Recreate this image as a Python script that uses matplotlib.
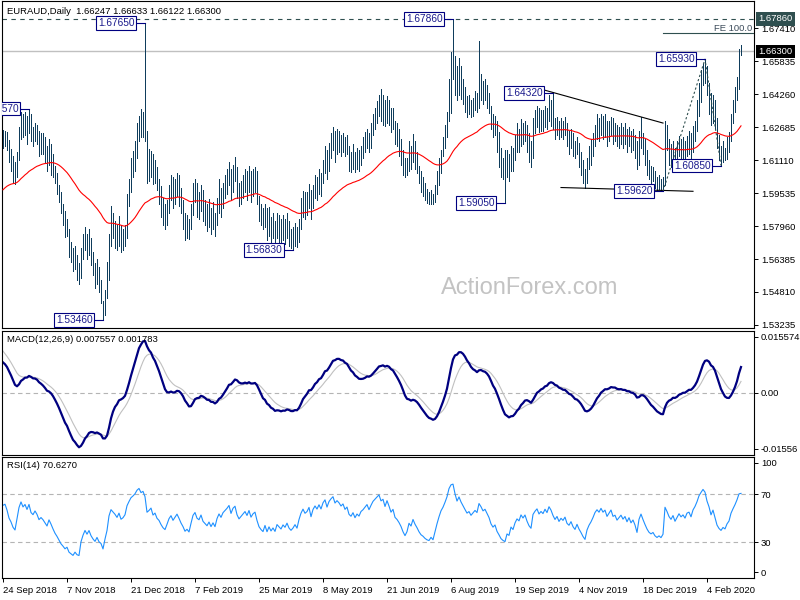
import numpy as np
import matplotlib
matplotlib.use('Agg')
import matplotlib.pyplot as plt

plt.rcParams['font.family'] = ['Liberation Sans', 'DejaVu Sans']

# daily EURAUD bars, 24 Sep 2018 .. 27 Feb 2020, prices in 1/10000
highs = [
    16255, 16250, 16245, 16205, 16165, 16130, 16100, 16150, 16270, 16340,
    16330, 16340, 16320, 16357, 16330, 16270, 16290, 16280, 16250, 16240,
    16240, 16220, 16180, 16210, 16190, 16140, 16084, 16050, 15990, 15957,
    15900, 15870, 15830, 15782, 15720, 15690, 15702, 15660, 15620, 15690,
    15760, 15790, 15760, 15780, 15740, 15670, 15620, 15640, 15600, 15540,
    15440, 15490, 15623, 15760, 15890, 15860, 15820, 15800, 15845, 15800,
    15780, 15800, 15950, 16020, 16120, 16156, 16200, 16290, 16320, 16354,
    16340, 16765, 16250, 16163, 16156, 16140, 16110, 16080, 16020, 15988,
    15930, 15900, 15920, 15990, 16040, 16030, 16020, 16050, 16040, 15980,
    15920, 15860, 15850, 15830, 15900, 16000, 16020, 16000, 15960, 15990,
    15970, 15920, 15900, 15925, 15880, 15910, 15860, 15930, 16020, 15980,
    16000, 16040, 16070, 16100, 16070, 16090, 16124, 16080, 16000, 16010,
    16040, 16070, 16060, 16084, 16060, 16070, 16080, 16060, 15940, 15900,
    15880, 15900, 15880, 15885, 15840, 15860, 15820, 15860, 15850, 15830,
    15850, 15830, 15860, 15820, 15780, 15790, 15810, 15790, 15830, 15930,
    15965, 15960, 15960, 15996, 15970, 15990, 16040, 16030, 16068, 16050,
    16110, 16180, 16160, 16195, 16240, 16267, 16250, 16260, 16251, 16230,
    16240, 16220, 16230, 16180, 16150, 16187, 16150, 16170, 16160, 16180,
    16220, 16243, 16260, 16240, 16290, 16330, 16360, 16394, 16420, 16453,
    16420, 16400, 16418, 16400, 16360, 16360, 16300, 16290, 16260, 16210,
    16160, 16120, 16120, 16200, 16180, 16235, 16200, 16150, 16084, 16060,
    16030, 16000, 15973, 15960, 15970, 15950, 15990, 16060, 16120, 16160,
    16220, 16280, 16340, 16500, 16625, 16786, 16610, 16560, 16600, 16560,
    16500, 16460, 16418, 16420, 16400, 16410, 16440, 16430, 16681, 16520,
    16490, 16500, 16470, 16430, 16370, 16330, 16320, 16300, 16243, 16170,
    16120, 16160, 16160, 16140, 16180, 16170, 16230, 16290, 16260, 16307,
    16290, 16300, 16280, 16240, 16200, 16310, 16350, 16370, 16360, 16350,
    16350, 16370, 16360, 16420, 16400, 16432, 16310, 16315, 16300, 16310,
    16300, 16315, 16290, 16251, 16260, 16240, 16200, 16220, 16195, 16150,
    16110, 16070, 16120, 16180, 16211, 16240, 16280, 16330, 16310, 16330,
    16320, 16330, 16300, 16300, 16315, 16310, 16290, 16280, 16270, 16290,
    16270, 16290, 16260, 16270, 16250, 16260, 16230, 16200, 16250, 16315,
    16240, 16210, 16160, 16110, 16084, 16080, 16060, 16030, 16040, 16020,
    16030, 16300, 16280, 16210, 16190, 16200, 16170, 16200, 16227, 16210,
    16220, 16200, 16227, 16250, 16240, 16275, 16300, 16400, 16480, 16540,
    16570, 16593, 16560, 16480, 16430, 16420, 16400, 16310, 16230, 16180,
    16200, 16170, 16220, 16243, 16330, 16400, 16460, 16506, 16641, 16663,
]
lows = [
    16170, 16180, 16160, 16100, 16060, 16000, 15996, 16030, 16110, 16210,
    16220, 16230, 16190, 16240, 16200, 16180, 16200, 16190, 16130, 16140,
    16140, 16100, 16060, 16090, 16040, 16030, 16000, 15950, 15910, 15860,
    15800, 15742, 15750, 15650, 15623, 15580, 15590, 15540, 15519, 15550,
    15640, 15680, 15640, 15660, 15610, 15560, 15500, 15520, 15479, 15430,
    15346, 15370, 15450, 15540, 15700, 15740, 15690, 15680, 15700, 15670,
    15680, 15700, 15740, 15890, 15960, 16030, 16060, 16120, 16200, 16220,
    16220, 16200, 16004, 16010, 16030, 15996, 16000, 15970, 15900, 15840,
    15800, 15780, 15800, 15860, 15920, 15880, 15900, 15940, 15890, 15860,
    15780, 15730, 15740, 15734, 15780, 15850, 15910, 15840, 15830, 15870,
    15820, 15800, 15770, 15790, 15760, 15780, 15750, 15800, 15860, 15840,
    15880, 15930, 15950, 15990, 15925, 15960, 16010, 15930, 15893, 15900,
    15930, 15960, 15920, 15960, 15910, 15940, 15960, 15900, 15820, 15800,
    15780, 15790, 15730, 15750, 15718, 15740, 15710, 15740, 15720, 15700,
    15730, 15710, 15740, 15700, 15690, 15683, 15700, 15694, 15720, 15780,
    15840, 15830, 15850, 15880, 15830, 15880, 15930, 15920, 15950, 15940,
    16004, 16050, 16020, 16060, 16120, 16160, 16100, 16140, 16150, 16132,
    16150, 16132, 16140, 16060, 16052, 16070, 16055, 16070, 16060, 16090,
    16120, 16148, 16170, 16150, 16170, 16230, 16260, 16290, 16320, 16300,
    16280, 16275, 16290, 16280, 16243, 16260, 16190, 16180, 16130, 16090,
    16040, 16028, 16040, 16060, 16070, 16100, 16070, 16050, 16000, 15960,
    15940, 15920, 15905, 15901, 15900, 15900, 15910, 15950, 15990, 16050,
    16130, 16170, 16220, 16300, 16338, 16500, 16420, 16400, 16420, 16402,
    16380, 16340, 16315, 16330, 16315, 16320, 16350, 16340, 16360, 16400,
    16380, 16400, 16360, 16338, 16260, 16220, 16230, 16150, 16080, 16030,
    16020, 15905, 16030, 16010, 16060, 16060, 16110, 16148, 16150, 16180,
    16190, 16200, 16148, 16100, 16080, 16120, 16240, 16270, 16243, 16250,
    16250, 16270, 16260, 16300, 16275, 16260, 16210, 16230, 16210, 16220,
    16210, 16230, 16180, 16140, 16170, 16130, 16120, 16140, 16080, 16040,
    16000, 15980, 16000, 16068, 16090, 16130, 16180, 16210, 16200, 16230,
    16210, 16220, 16180, 16200, 16230, 16190, 16200, 16180, 16170, 16190,
    16170, 16190, 16148, 16180, 16150, 16160, 16120, 16068, 16090, 16170,
    16140, 16090, 16040, 16020, 16000, 16010, 15980, 15970, 15975, 15965,
    15962, 15990, 16160, 16090, 16080, 16100, 16080, 16090, 16130, 16110,
    16116, 16100, 16130, 16140, 16116, 16150, 16200, 16250, 16320, 16390,
    16470, 16480, 16420, 16330, 16280, 16290, 16260, 16170, 16110, 16085,
    16100, 16110, 16116, 16150, 16200, 16290, 16340, 16400, 16450, 16612,
]
closes = [
    16220, 16230, 16195, 16140, 16110, 16065, 16040, 16120, 16230, 16300,
    16260, 16290, 16250, 16310, 16240, 16220, 16260, 16230, 16180, 16200,
    16180, 16150, 16120, 16170, 16130, 16080, 16030, 15990, 15940, 15880,
    15840, 15790, 15800, 15700, 15660, 15620, 15640, 15580, 15560, 15650,
    15700, 15740, 15690, 15720, 15650, 15600, 15560, 15590, 15520, 15490,
    15380, 15460, 15540, 15720, 15820, 15790, 15760, 15720, 15780, 15700,
    15720, 15760, 15900, 15980, 16060, 16100, 16150, 16240, 16290, 16250,
    16280, 16230, 16050, 16080, 16120, 16030, 16060, 15990, 15960, 15900,
    15850, 15820, 15880, 15950, 15990, 15930, 15970, 16010, 15960, 15900,
    15850, 15780, 15800, 15760, 15850, 15950, 15990, 15920, 15900, 15960,
    15880, 15850, 15820, 15860, 15800, 15840, 15790, 15880, 15940, 15900,
    15960, 15990, 16020, 16060, 15980, 16050, 16080, 15990, 15940, 15970,
    16000, 16030, 15990, 16050, 15980, 16020, 16040, 15950, 15870, 15830,
    15800, 15860, 15770, 15820, 15760, 15790, 15740, 15810, 15780, 15750,
    15790, 15760, 15800, 15740, 15710, 15730, 15760, 15720, 15800, 15870,
    15920, 15880, 15900, 15950, 15860, 15950, 16000, 15970, 16030, 15990,
    16080, 16130, 16060, 16150, 16200, 16240, 16180, 16220, 16200, 16170,
    16200, 16150, 16180, 16110, 16090, 16130, 16080, 16120, 16100, 16150,
    16170, 16200, 16230, 16190, 16240, 16290, 16320, 16350, 16380, 16340,
    16360, 16310, 16380, 16340, 16290, 16320, 16250, 16230, 16200, 16160,
    16100, 16050, 16080, 16150, 16120, 16180, 16130, 16090, 16040, 16000,
    15980, 15950, 15930, 15920, 15940, 15910, 15960, 16020, 16080, 16140,
    16180, 16240, 16320, 16480, 16580, 16600, 16520, 16450, 16530, 16480,
    16440, 16400, 16360, 16380, 16340, 16370, 16400, 16380, 16500, 16470,
    16430, 16450, 16410, 16370, 16300, 16260, 16280, 16200, 16150, 16090,
    16060, 16040, 16100, 16080, 16150, 16120, 16180, 16220, 16200, 16260,
    16230, 16260, 16200, 16150, 16120, 16260, 16300, 16330, 16280, 16310,
    16290, 16340, 16310, 16380, 16350, 16300, 16260, 16290, 16240, 16270,
    16250, 16280, 16220, 16200, 16230, 16180, 16150, 16190, 16140, 16100,
    16050, 16010, 16080, 16120, 16150, 16190, 16240, 16270, 16250, 16290,
    16260, 16280, 16230, 16260, 16290, 16240, 16250, 16210, 16230, 16250,
    16220, 16240, 16200, 16230, 16190, 16210, 16170, 16100, 16200, 16250,
    16200, 16150, 16100, 16060, 16040, 16050, 16010, 15990, 16000, 15980,
    16000, 16240, 16200, 16150, 16120, 16160, 16100, 16140, 16180, 16150,
    16170, 16140, 16190, 16200, 16160, 16230, 16270, 16330, 16420, 16480,
    16540, 16520, 16450, 16400, 16320, 16380, 16300, 16200, 16150, 16120,
    16150, 16130, 16180, 16210, 16300, 16360, 16420, 16500, 16620, 16630,
]

# indicator states on the first bar
ema55_start = 1.5960
ema12_start = 1.6215
ema26_start = 1.6124
signal_start = 0.0124
prev_close = 1.6210
rsi_gain_start = 0.0021
rsi_loss_start = 0.0014

date_labels = ['24 Sep 2018', '7 Nov 2018', '21 Dec 2018', '7 Feb 2019', '25 Mar 2019',
               '8 May 2019', '21 Jun 2019', '6 Aug 2019', '19 Sep 2019', '4 Nov 2019',
               '18 Dec 2019', '4 Feb 2020']
price_ticks = [1.53235, 1.54810, 1.56385, 1.57960, 1.59535, 1.61110,
               1.62685, 1.64260, 1.65835, 1.67410]

# swing labels: bar, price
swing_bars = [13, 71, 50, 145, 225, 251, 275, 330, 351, 359]
swing_prices = [1.6357, 1.6765, 1.5346, 1.5683, 1.6786, 1.5905, 1.6432, 1.5962, 1.6593, 1.6085]

last_price = 1.6630
high_level = 1.6786
fe100 = 1.6716

H = np.array(highs) / 10000
L = np.array(lows) / 10000
C = np.array(closes) / 10000
x = np.arange(len(C))


def ema(vals, n, start):
    a = 2.0 / (n + 1)
    out = np.empty(len(vals))
    prev = start
    for i, v in enumerate(vals):
        prev = prev + a * (v - prev)
        out[i] = prev
    return out


ma55 = ema(C, 55, ema55_start)
macd = ema(C, 12, ema12_start) - ema(C, 26, ema26_start)
signal = ema(macd, 9, signal_start)

# Wilder RSI(14)
rsi = np.empty(len(C))
g, l = rsi_gain_start, rsi_loss_start
pc = prev_close
for i, c in enumerate(C):
    d = c - pc
    g = (g * 13 + max(d, 0)) / 14
    l = (l * 13 + max(-d, 0)) / 14
    rsi[i] = 100 - 100 / (1 + g / l)
    pc = c

fig = plt.figure(figsize=(8, 6), dpi=100)


def pix_axes(x0, y0, x1, y1):
    return fig.add_axes([x0 / 800, 1 - y1 / 600, (x1 - x0) / 800, (y1 - y0) / 600])


ax = pix_axes(2, 1, 754, 328)
ax2 = pix_axes(2, 331, 754, 455)
ax3 = pix_axes(2, 457, 754, 578)

fs = 6.8
for a in (ax, ax2, ax3):
    a.set_xlim(-0.5, 375.5)
    for s in a.spines.values():
        s.set_linewidth(0.8)
        s.set_color('black')
    a.yaxis.tick_right()
    a.tick_params(axis='y', right=True, left=False, labelright=True, labelleft=False,
                  length=3, width=0.7, pad=2, labelsize=fs)
    a.tick_params(axis='x', bottom=False, labelbottom=False)

# ---- price panel
ax.vlines(x, L, H, color='#0f3d5c', lw=0.5, antialiased=False, zorder=3)
ax.plot(x, ma55, color='#ff0000', lw=0.8, zorder=4)
ax.axhline(high_level, color='#2f4f4f', lw=0.8, ls=(0, (4, 4)), zorder=2)
ax.axhline(last_price, color='#c0c0c0', lw=1.0, zorder=1)
ax.set_ylim(1.5309, 1.6871)
ax.set_yticks(price_ticks)
ax.set_yticklabels([f'{p:.5f}' for p in price_ticks])

# trend lines
ax.plot([269, 330], [1.6450, 1.6288], color='black', lw=0.8, zorder=5)
ax.plot([279, 345], [1.5980, 1.5962], color='black', lw=0.8, zorder=5)
# fibonacci expansion
ax.plot([330, 351, 359], [1.5962, 1.6593, 1.6085], color='#2f4f4f', lw=0.8,
        ls=(0, (2, 2)), zorder=5)
ax.plot([330, 375.5], [fe100, fe100], color='#2f4f4f', lw=0.8, zorder=5)
ax.text(374.8, fe100 + 0.0004, 'FE 100.0', ha='right', va='bottom', fontsize=fs,
        color='#3c4b5a', zorder=6)

for b, p in zip(swing_bars, swing_prices):
    ax.plot([b - 5, b], [p, p], color='#000080', lw=0.8, zorder=6)
    ax.text(b - 5.3, p, f'{p:.5f}', ha='right', va='center', fontsize=7.3,
            color='#1a1a8c', zorder=7, clip_on=True,
            bbox=dict(boxstyle='square,pad=0.18', fc='white', ec='#000080', lw=0.8))

# highlighted values on the price axis
ytr = ax.get_yaxis_transform()
ax.text(1.0055, high_level, '1.67860', transform=ytr, ha='left', va='center',
        fontsize=fs, color='white', zorder=8,
        bbox=dict(boxstyle='square,pad=0.25', fc='#2f4f4f', ec='none'))
ax.text(1.0055, last_price, '1.66300', transform=ytr, ha='left', va='center',
        fontsize=fs, color='white', zorder=8,
        bbox=dict(boxstyle='square,pad=0.25', fc='black', ec='none'))

fig.text(7 / 800, 1 - 11 / 600, 'EURAUD,Daily  1.66247 1.66633 1.66122 1.66300',
         fontsize=fs, va='center', ha='left')
fig.text(530 / 800, 1 - 288 / 600, 'ActionForex.com', fontsize=17, color='#c3c3c3',
         ha='center', va='center')

# ---- MACD panel
ax2.axhline(0, color='#b4b4b4', lw=0.8, ls=(0, (4, 3)))
ax2.plot(x, signal, color='#c0c0c0', lw=0.8)
ax2.plot(x, macd, color='#000080', lw=1.6)
ax2.set_ylim(-0.0173, 0.0172)
ax2.set_yticks([-0.01556, 0.0, 0.015574])
ax2.set_yticklabels(['-0.01556', '0.00', '0.015574'])
fig.text(7 / 800, 1 - 340 / 600, 'MACD(12,26,9) 0.007557 0.001783', fontsize=fs,
         va='center', ha='left')

# ---- RSI panel
for lv in (30, 70):
    ax3.axhline(lv, color='#b4b4b4', lw=0.8, ls=(0, (4, 3)))
ax3.plot(x, rsi, color='#1e90ff', lw=0.8)
ax3.set_ylim(0.25, 101.1)
ax3.set_yticks([5.25, 30, 70, 96.1])
ax3.set_yticklabels(['0', '30', '70', '100'])
fig.text(7 / 800, 1 - 466 / 600, 'RSI(14) 70.6270', fontsize=fs, va='center', ha='left')

ax3.tick_params(axis='x', bottom=True, labelbottom=True, length=3, width=0.7, pad=3,
                labelsize=fs)
ax3.set_xticks(np.arange(len(date_labels)) * 32)
ax3.set_xticklabels(date_labels, ha='left')

fig.savefig('out.png', dpi=100)
